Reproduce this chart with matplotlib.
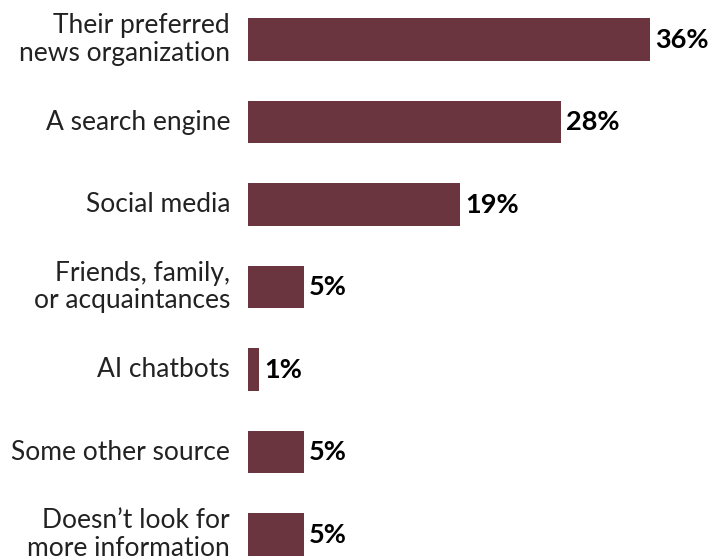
import matplotlib.pyplot as plt

categories = [
    "Their preferred\nnews organization",
    "A search engine",
    "Social media",
    "Friends, family,\nor acquaintances",
    "AI chatbots",
    "Some other source",
    "Doesn\u2019t look for\nmore information",
]
values = [36, 28, 19, 5, 1, 5, 5]

bar_color = "#6b3540"

plt.rcParams["font.family"] = ["Lato", "DejaVu Sans"]

fig = plt.figure(figsize=(7.19, 5.6), dpi=100)
ax = fig.add_axes([248 / 719, 0, 471 / 719, 1])

pos = list(range(len(values)))
ax.barh(pos, values, height=0.52, color=bar_color)

for p, v in zip(pos, values):
    ax.annotate(f"{v}%", (v, p), xytext=(5, 0), textcoords="offset pixels",
                va="center", ha="left", fontsize=19.5, fontweight="bold", color="black")
    ax.annotate(categories[p], (0, p), xytext=(-18, 0), textcoords="offset pixels",
                va="center", ha="right", fontsize=19, color="#222222",
                linespacing=1.12)

ax.set_xlim(0, 42.2)
ax.set_ylim(6.309, -0.479)
ax.axis("off")

fig.savefig("out.png", dpi=100)
